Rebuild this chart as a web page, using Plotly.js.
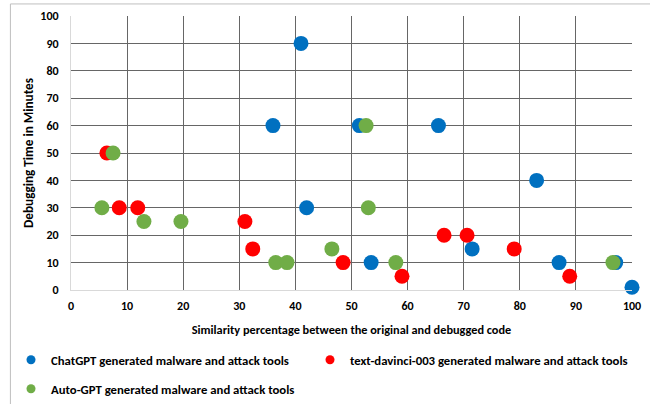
<!DOCTYPE html>
<html>
<head>
<meta charset="utf-8">
<script src="https://cdn.plot.ly/plotly-3.0.1.min.js"></script>
<style>html,body{margin:0;padding:0;background:#fff;}#chart{width:650px;height:404px;}</style>
</head>
<body>
<div id="chart"></div>
<script>
var chatgptX = [41, 36, 51.4, 65.5, 42, 53.5, 71.5, 83, 87, 97.1, 100];
var chatgptY = [90, 60, 60, 60, 30, 10, 15, 40, 10, 10, 1];
var davinciX = [6.4, 8.6, 11.9, 31, 32.4, 48.5, 59, 66.5, 70.6, 79, 88.9];
var davinciY = [50, 30, 30, 25, 15, 10, 5, 20, 20, 15, 5];
var autogptX = [7.5, 5.5, 13, 19.6, 36.5, 38.5, 46.5, 52.6, 53, 57.9, 96.6];
var autogptY = [50, 30, 25, 25, 10, 10, 15, 60, 30, 10, 10];
var seriesNames = ['ChatGPT generated malware and attack tools', 'text-davinci-003 generated malware and attack tools', 'Auto-GPT generated malware and attack tools'];
var colors = ['#0070c0', '#ff0000', '#70ad47'];
var xTitle = 'Similarity percentage between the original and debugged code';
var yTitle = 'Debugging Time in Minutes';

var FONT = 'Carlito, "Liberation Sans", Arial, sans-serif';
var xs = [chatgptX, davinciX, autogptX];
var ys = [chatgptY, davinciY, autogptY];
var legends = ['legend', 'legend2', 'legend3'];
var data = [];
for (var i = 0; i < 3; i++) {
  data.push({type: 'scatter', mode: 'markers', x: xs[i], y: ys[i], name: seriesNames[i],
    showlegend: false, cliponaxis: false, hoverinfo: 'x+y',
    marker: {color: colors[i], size: 15, line: {width: 0}}});
}
for (var j = 0; j < 3; j++) {
  data.push({type: 'scatter', mode: 'markers', x: [null], y: [null], name: seriesNames[j],
    legend: legends[j], showlegend: true,
    marker: {color: colors[j], size: 9, line: {width: 0}}});
}

var legendFont = {family: FONT, size: 12.75, color: '#000', weight: 'bold'};
function leg(xpx, ytop) {
  return {orientation: 'h', xref: 'container', yref: 'container', x: xpx / 650, xanchor: 'left',
    y: 1 - ytop / 404, yanchor: 'top', font: legendFont, bgcolor: 'rgba(0,0,0,0)', borderwidth: 0};
}
var layout = {
  width: 650, height: 404,
  margin: {l: 71, r: 18, t: 16, b: 114, autoexpand: false},
  paper_bgcolor: '#fff', plot_bgcolor: '#fff',
  font: {family: FONT, size: 12, color: '#000'},
  xaxis: {range: [0, 100], dtick: 10, tick0: 0, showgrid: true, gridcolor: '#666666', gridwidth: 1,
    showline: true, linecolor: '#d9d9d9', linewidth: 1, zeroline: false, automargin: false,
    ticks: '', ticklabelstandoff: 5, tickfont: {family: FONT, size: 12, color: '#000', weight: 'bold'},
    title: {text: '<b>' + xTitle + '</b>', font: {family: FONT, size: 12.3, color: '#000'}, standoff: 12}},
  yaxis: {range: [0, 100], dtick: 10, tick0: 0, showgrid: true, gridcolor: '#666666', gridwidth: 1,
    showline: true, linecolor: '#d9d9d9', linewidth: 1, zeroline: false, automargin: false,
    ticks: '', ticklabelstandoff: 9, tickfont: {family: FONT, size: 12, color: '#000', weight: 'bold'},
    title: {text: '<b>' + yTitle + '</b>', font: {family: FONT, size: 13.2, color: '#000'}, standoff: 3}},
  legend: leg(11, 345),
  legend2: leg(310, 345),
  legend3: leg(11, 374),
  shapes: [
    {type: 'line', xref: 'paper', yref: 'paper', x0: -0.108, x1: 1.2, y0: 1.044, y1: 1.044, line: {color: '#bfbfbf', width: 1}},
    {type: 'line', xref: 'paper', yref: 'paper', x0: -0.108, x1: -0.108, y0: 1.044, y1: -0.5, line: {color: '#bfbfbf', width: 1}}
  ]
};
Plotly.newPlot('chart', data, layout, {displayModeBar: false, staticPlot: true});
</script>
</body>
</html>
